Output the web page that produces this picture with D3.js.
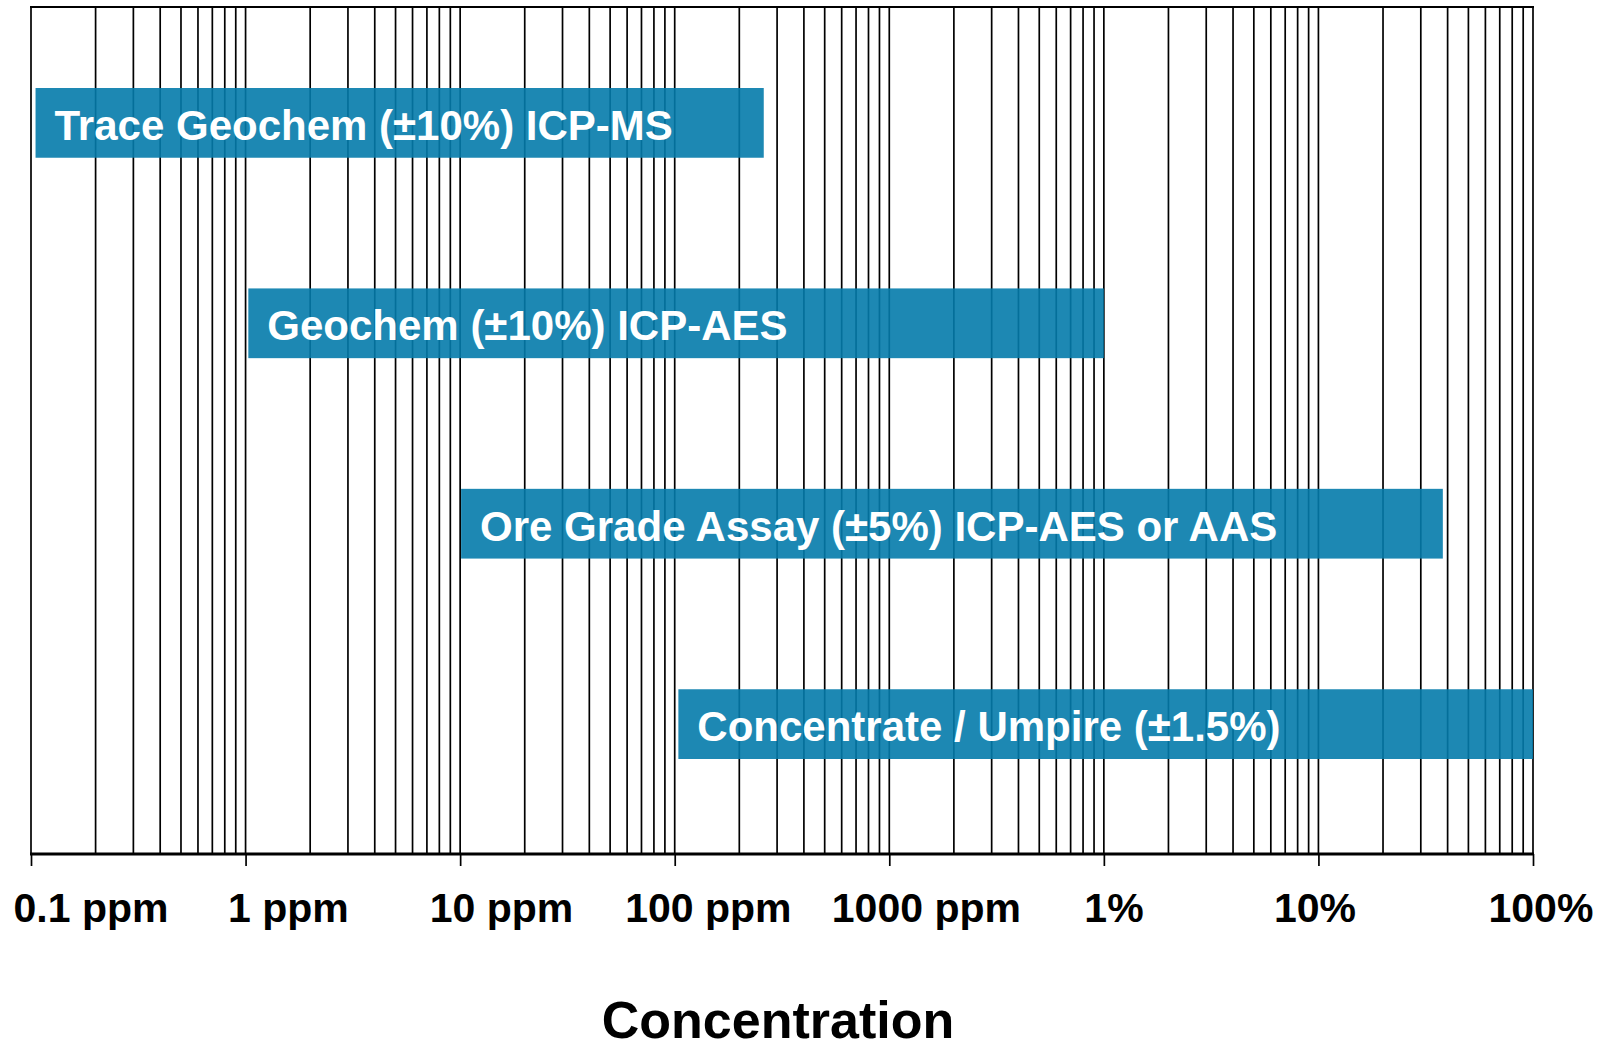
<!DOCTYPE html>
<html>
<head>
<meta charset="utf-8">
<script src="https://cdn.jsdelivr.net/npm/d3@7"></script>
<style>
  body { margin: 0; background: #fff; }
  text { font-family: 'Liberation Sans', Arial, sans-serif; font-weight: bold; }
</style>
</head>
<body>
<svg id="chart" width="1602" height="1048"></svg>
<script>
// methods and their working ranges, in ppm
const methods = ['Trace Geochem (±10%) ICP-MS', 'Geochem (±10%) ICP-AES', 'Ore Grade Assay (±5%) ICP-AES or AAS', 'Concentrate / Umpire (±1.5%)']
const rangeLow = [0.105, 1.03, 10.1, 104]
const rangeHigh = [260, 10000, 380000, 1000000]

const tickValues = [0.1, 1, 10, 100, 1000, 10000, 100000, 1000000]
const tickLabels = ['0.1 ppm', '1 ppm', '10 ppm', '100 ppm', '1000 ppm', '1%', '10%', '100%']
// labels are not centred on the ticks in the original, nudge each one
const labelNudge = [-18, -18, -31, -50, -58, -20, -45, -45]

const margin = { left: 31, right: 69, top: 7, bottom: 194 }
const width = 1602, height = 1048
const svg = d3.select('#chart')

const x = d3.scaleLog()
    .domain([0.1, 1000000])
    .range([margin.left, width - margin.right])
const y = d3.scaleBand()
    .domain(methods)
    .range([88, 759])
    .paddingInner(0.652)
    .paddingOuter(0)
const axisY = height - margin.bottom

// vertical grid, one line per 1..9 multiple
svg.append('g').attr('id', 'grid').selectAll('line')
    .data(x.ticks())
    .enter()
    .append('line')
    .attr('x1', d => x(d))
    .attr('x2', d => x(d))
    .attr('y1', margin.top)
    .attr('y2', axisY)
    .attr('stroke', '#000')
    .attr('stroke-width', 1.7)

svg.append('line')
    .attr('x1', x.range()[0] - 1)
    .attr('x2', x.range()[1] + 1)
    .attr('y1', margin.top)
    .attr('y2', margin.top)
    .attr('stroke', '#000')
    .attr('stroke-width', 2)

// bars
let bar = svg.append('g').attr('id', 'bars').selectAll('g')
    .data(methods)
    .enter()
    .append('g')
bar.append('rect')
    .attr('x', (d, i) => x(rangeLow[i]))
    .attr('y', d => y(d))
    .attr('width', (d, i) => x(rangeHigh[i]) - x(rangeLow[i]))
    .attr('height', y.bandwidth())
    .attr('fill', '#047bab')
    .attr('fill-opacity', 0.9)
bar.append('text')
    .text(d => d)
    .attr('x', (d, i) => x(rangeLow[i]) + 19)
    .attr('y', d => y(d) + y.bandwidth() / 2 + 17)
    .attr('font-size', '42px')
    .attr('fill', '#fff')

// bottom axis
let axis = svg.append('g')
    .attr('transform', 'translate(0,' + axisY + ')')
    .call(d3.axisBottom(x)
        .tickValues(tickValues)
        .tickFormat((d, i) => tickLabels[i])
        .tickSize(12)
        .tickSizeOuter(0))
axis.select('.domain').remove()
axis.selectAll('.tick line')
    .attr('stroke', '#000')
    .attr('stroke-width', 1.7)
axis.selectAll('.tick text')
    .attr('dy', null)
    .attr('y', 68)
    .attr('x', (d, i) => labelNudge[i])
    .attr('text-anchor', 'start')
    .attr('font-size', '41px')
    .attr('font-family', "'Liberation Sans', Arial, sans-serif")
    .attr('font-weight', 'bold')
    .attr('fill', '#000')
axis.append('line')
    .attr('x1', x.range()[0] - 1)
    .attr('x2', x.range()[1] + 1)
    .attr('y1', 0)
    .attr('y2', 0)
    .attr('stroke', '#000')
    .attr('stroke-width', 3)

svg.append('text')
    .text('Concentration')
    .attr('x', 778)
    .attr('y', 1038)
    .attr('text-anchor', 'middle')
    .attr('font-size', '52px')
    .attr('fill', '#000')
</script>
</body>
</html>
